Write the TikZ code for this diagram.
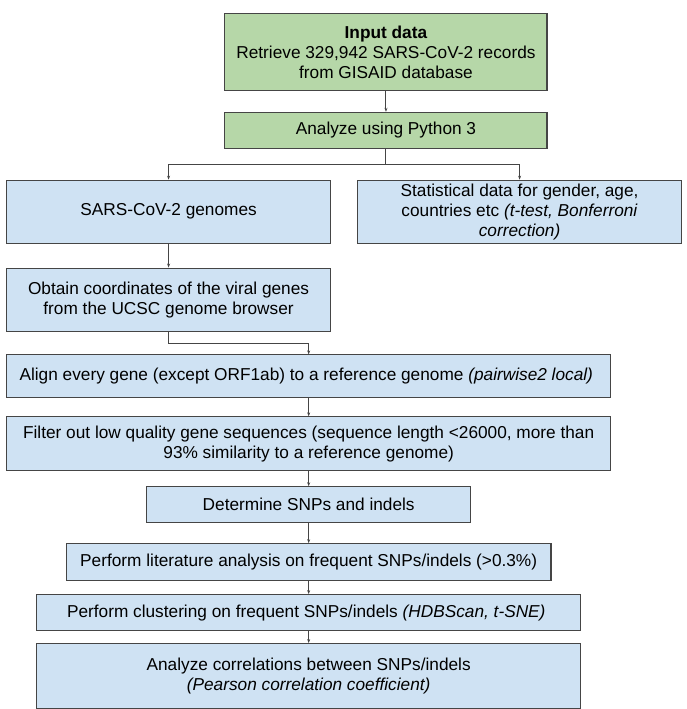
\documentclass[tikz,border=0pt]{standalone}
\usepackage{fontspec}
\setmainfont{Liberation Sans}
\usetikzlibrary{positioning,calc,arrows.meta}
\definecolor{inputgreen}{HTML}{B6D7A8}
\definecolor{stepblue}{HTML}{CFE2F3}
\definecolor{edgegray}{HTML}{454545}

\begin{document}
\begin{tikzpicture}[node distance=20pt, font=\fontsize{17.3}{20}\selectfont]
    % Define the styles for the boxes and the arrows
    \tikzstyle{box} = [rectangle, draw=edgegray, line width=1.1pt, align=center, inner sep=2pt]
    \tikzstyle{inbox} = [box, fill=inputgreen, minimum width=323pt]
    \tikzstyle{stepbox} = [box, fill=stepblue]
    \tikzstyle{arrow} = [draw=edgegray, line width=1pt, -{Stealth[length=4pt,width=3pt]}]
    \tikzstyle{line} = [draw=edgegray, line width=1pt]

    % Input and analysis
    \node [inbox, minimum height=77pt] (input) {
        \textbf{Input data}\\
        Retrieve 329,942 SARS-CoV-2 records\\
        from GISAID database
    };
    \node [inbox, minimum height=36pt, below=21pt of input] (python) {Analyze using Python 3};
    \coordinate [below=16pt of python] (split);

    % The two branches
    \node [stepbox, minimum width=325pt, minimum height=63pt, below=31pt of python, xshift=-218pt] (genomes) {SARS-CoV-2 genomes};
    \node [stepbox, minimum width=325pt, minimum height=63pt, below=31pt of python, xshift=134pt] (stats) {
        Statistical data for gender, age,\\
        countries etc \textit{(t-test, Bonferroni}\\
        \textit{correction)}
    };
    \node [stepbox, minimum width=325pt, minimum height=64pt, below=24pt of genomes] (coords) {
        Obtain coordinates of the viral genes\\
        from the UCSC genome browser
    };

    % The main pipeline
    \node [stepbox, minimum width=606pt, minimum height=43pt, below=22pt of coords, xshift=140.5pt] (align) {
        Align every gene (except ORF1ab) to a reference genome \textit{(pairwise2 local)}
    };
    \node [stepbox, minimum width=606pt, minimum height=54pt, below=18pt of align] (filter) {
        Filter out low quality gene sequences (sequence length <26000, more than\\
        93\% similarity to a reference genome)
    };
    \node [stepbox, minimum width=325pt, minimum height=36pt, below=15pt of filter] (snps) {Determine SNPs and indels};
    \node [stepbox, minimum width=486pt, minimum height=37pt, below=20pt of snps] (lit) {Perform literature analysis on frequent SNPs/indels (>0.3\%)};
    \node [stepbox, minimum width=546pt, minimum height=36pt, below=13pt of lit] (cluster) {
        Perform clustering on frequent SNPs/indels \textit{(HDBScan, t-SNE)}
    };
    \node [stepbox, minimum width=546pt, minimum height=65pt, below=12pt of cluster] (corr) {
        Analyze correlations between SNPs/indels\\
        \textit{(Pearson correlation coefficient)}
    };

    % Draw the arrows between the boxes
    \draw [arrow] (input) -- (python);
    \draw [line] (python) -- (split);
    \draw [arrow] (split) -| (genomes);
    \draw [arrow] (split) -| (stats);
    \draw [arrow] (genomes) -- (coords);
    \draw [arrow] (coords.south) -- ++(0,-11pt) -| (align.north);
    \draw [arrow] (align) -- (filter);
    \draw [arrow] (filter) -- (snps);
    \draw [arrow] (snps) -- (lit);
    \draw [arrow] (lit) -- (cluster);
    \draw [arrow] (cluster) -- (corr);

    % Fix the margins
    \useasboundingbox ($(input.north west)+(-225pt,13pt)$) rectangle ++(688pt,-709pt);
\end{tikzpicture}
\end{document}
